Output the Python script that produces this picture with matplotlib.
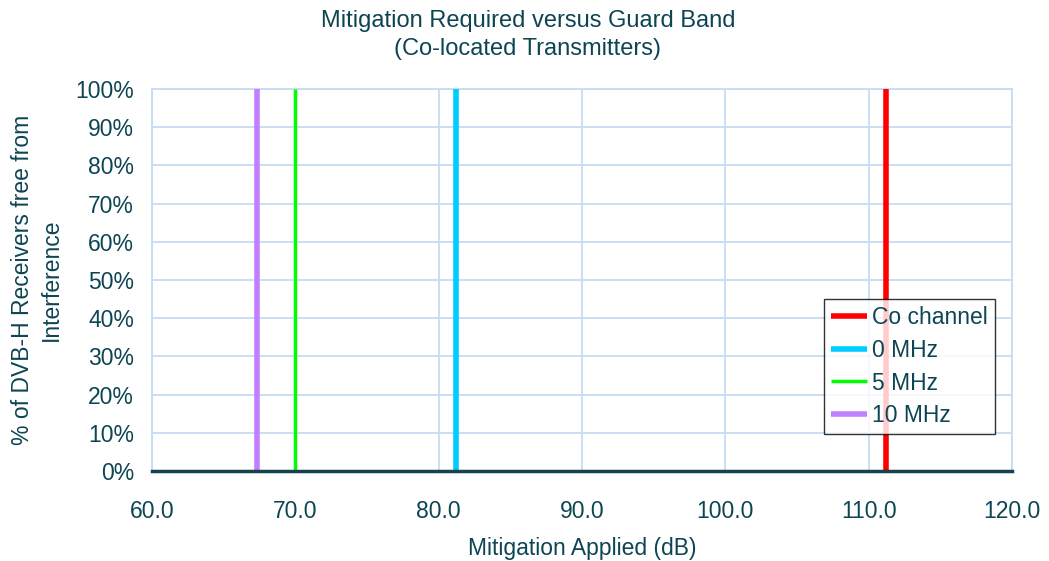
import matplotlib
matplotlib.use("Agg")
import matplotlib.pyplot as plt
from matplotlib.ticker import FuncFormatter, MultipleLocator

plt.rcParams['font.family'] = ['Liberation Sans', 'DejaVu Sans']

series_names = ["Co channel", "0 MHz", "5 MHz", "10 MHz"]
mitigation_db = [111.2, 81.2, 70.0, 67.3]
colors = ["#ff0000", "#00ccff", "#00ff00", "#bf80ff"]
widths = [4.0, 4.0, 2.5, 4.0]
free_pct = [0.0, 1.0]

txt = "#0d4553"
grid_c = "#c6dcf3"
W, H = 1049, 561

fig = plt.figure(figsize=(W/100, H/100), dpi=100)
ax = fig.add_axes([152/W, 1-471/H, (1012-152)/W, (471-89)/H])

for name, x, c, w in zip(series_names, mitigation_db, colors, widths):
    ax.plot([x, x], free_pct, color=c, lw=w, label=name, solid_capstyle='butt', zorder=3)

ax.set_xlim(60, 120)
ax.set_ylim(0, 1)
ax.xaxis.set_major_locator(MultipleLocator(10))
ax.yaxis.set_major_locator(MultipleLocator(0.1))
ax.xaxis.set_major_formatter(FuncFormatter(lambda v, p: f"{v:.1f}"))
ax.yaxis.set_major_formatter(FuncFormatter(lambda v, p: f"{v*100:.0f}%"))
ax.grid(True, color=grid_c, lw=1.3, zorder=0)
ax.tick_params(length=0, labelsize=16.5, colors=txt)
ax.tick_params(axis='y', pad=13)
ax.tick_params(axis='x', pad=21)
for s in ['left', 'right', 'top']:
    ax.spines[s].set_color(grid_c)
    ax.spines[s].set_linewidth(1.3)
ax.spines['bottom'].set_color("#14434f")
ax.spines['bottom'].set_linewidth(2.5)
ax.spines['bottom'].set_zorder(4)

fig.text((152+1012)/2/W, 1-548/H, "Mitigation Applied (dB)", fontsize=16.5, color=txt,
         ha='center', va='center')
fig.text(37/W, 1-280/H, "% of DVB-H Receivers free from\nInterference", fontsize=16.5, color=txt,
         ha='center', va='center', rotation=90, linespacing=1.35, multialignment='center')
fig.text(528/W, 1-35/H, "Mitigation Required versus Guard Band\n(Co-located Transmitters)", fontsize=17,
         color=txt, ha='center', va='center', linespacing=1.35, multialignment='center')

leg = ax.legend(loc='lower right', bbox_to_anchor=((995-152)/860, (471-434)/382), fontsize=16.5,
                frameon=True, fancybox=False, handlelength=1.55, handletextpad=0.25,
                borderpad=0.3, labelspacing=0.42, borderaxespad=0)
leg.get_frame().set_edgecolor('black')
leg.get_frame().set_linewidth(1.0)
for t in leg.get_texts():
    t.set_color(txt)

fig.savefig("out.png", dpi=100)
